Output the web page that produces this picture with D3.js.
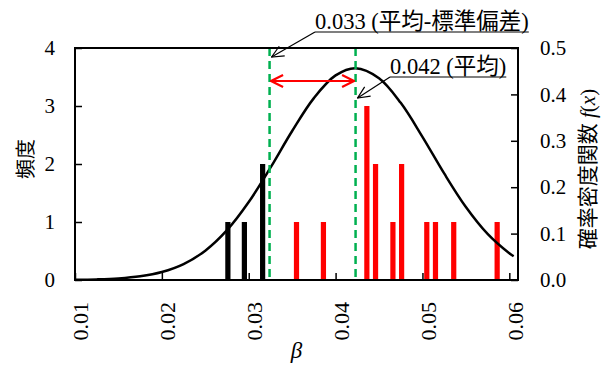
<!DOCTYPE html>
<html>
<head>
<meta charset="utf-8">
<script src="https://cdn.jsdelivr.net/npm/d3@7"></script>
<style>
  body { margin: 0; background: #fff; }
</style>
</head>
<body>
<svg id="chart" width="603" height="365"></svg>
<script>
// histogram of beta (bin centre) and frequency
let betaValues = [0.0276, 0.0295, 0.0316, 0.0355, 0.0386, 0.0436, 0.0446, 0.0466, 0.0476, 0.0505, 0.0515, 0.0536, 0.0586];
let frequency  = [1, 1, 2, 1, 1, 3, 2, 1, 2, 1, 1, 1, 1];

// probability density curve f(x)
let curveX = [0.010, 0.0125, 0.015, 0.0175, 0.020, 0.0225, 0.025, 0.0275, 0.030, 0.0325, 0.035, 0.0375, 0.040, 0.0423, 0.045, 0.0475, 0.050, 0.0525, 0.055, 0.0575, 0.060, 0.0605];
let curveY = [0.0005, 0.0013, 0.0033, 0.0079, 0.0171, 0.0342, 0.0632, 0.1074, 0.1680, 0.2420, 0.3211, 0.3920, 0.4409, 0.4565, 0.4350, 0.3818, 0.3086, 0.2296, 0.1573, 0.0993, 0.0576, 0.0512];

// mean - sd and mean markers, labels split into latin / japanese pieces
let markerValues = [0.0324, 0.0423];
let markerLabels = [
    ["0.033 (", "平均", "-", "標準偏差", ")"],
    ["0.042 (", "平均", ")"]
];

let xTicks = [0.01, 0.02, 0.03, 0.04, 0.05, 0.06];
let leftTicks = [0, 1, 2, 3, 4];
let rightTicks = [0, 0.1, 0.2, 0.3, 0.4, 0.5];

const SERIF = "'Times New Roman'";
const JP = "'Noto Sans CJK JP'";

let svg = d3.select("#chart");
let plotLeft = 75, plotRight = 518, plotTop = 48, plotBottom = 280;

let x = d3.scaleLinear().domain([0.01, 0.061]).range([plotLeft, plotRight]);
let yFreq = d3.scaleLinear().domain([0, 4]).range([plotBottom, plotTop]);
let yPdf = d3.scaleLinear().domain([0, 0.5]).range([plotBottom, plotTop]);

// markers for arrows
let defs = svg.append("defs");
defs.append("marker")
    .attr("id", "openBlack")
    .attr("viewBox", "0 0 14 14")
    .attr("refX", 13).attr("refY", 7)
    .attr("markerWidth", 14).attr("markerHeight", 14)
    .attr("markerUnits", "userSpaceOnUse")
    .attr("orient", "auto")
  .append("path")
    .attr("d", "M1,1.5 L13,7 L1,12.5")
    .attr("fill", "none").attr("stroke", "#000").attr("stroke-width", 1.2);
defs.append("marker")
    .attr("id", "openRed")
    .attr("viewBox", "0 0 14 14")
    .attr("refX", 13).attr("refY", 7)
    .attr("markerWidth", 14).attr("markerHeight", 14)
    .attr("markerUnits", "userSpaceOnUse")
    .attr("orient", "auto-start-reverse")
  .append("path")
    .attr("d", "M1,1 L13,7 L1,13")
    .attr("fill", "none").attr("stroke", "#ff0000").attr("stroke-width", 2.2);

// bars
let bars = betaValues.map((b, i) => ({beta: b, n: frequency[i]}));
svg.append("g").selectAll("rect")
    .data(bars)
    .enter()
    .append("rect")
    .attr("x", d => x(d.beta - 0.0003))
    .attr("width", d => x(d.beta + 0.0003) - x(d.beta - 0.0003))
    .attr("y", d => yFreq(d.n))
    .attr("height", d => yFreq(0) - yFreq(d.n))
    .attr("fill", d => d.beta < markerValues[0] ? "#000" : "#ff0000");

// normal curve
let line = d3.line()
    .x(d => x(d[0]))
    .y(d => yPdf(d[1]))
    .curve(d3.curveCatmullRom);
svg.append("path")
    .datum(curveX.map((v, i) => [v, curveY[i]]))
    .attr("d", line)
    .attr("fill", "none")
    .attr("stroke", "#000")
    .attr("stroke-width", 2.5);

// dashed green lines
svg.append("g").selectAll("line")
    .data(markerValues)
    .enter()
    .append("line")
    .attr("x1", d => x(d)).attr("x2", d => x(d))
    .attr("y1", plotTop).attr("y2", plotBottom)
    .attr("stroke", "#00b050")
    .attr("stroke-width", 2.5)
    .attr("stroke-dasharray", "8,5");

// frame
svg.append("rect")
    .attr("x", plotLeft).attr("y", plotTop)
    .attr("width", plotRight - plotLeft).attr("height", plotBottom - plotTop)
    .attr("fill", "none").attr("stroke", "#000").attr("stroke-width", 2);

// axes
let xAxis = svg.append("g")
    .attr("transform", `translate(0, ${plotBottom})`)
    .call(d3.axisBottom(x).tickValues(xTicks).tickFormat(d3.format(".2f")).tickSize(-7).tickSizeOuter(0));
xAxis.select(".domain").remove();
xAxis.selectAll("line").attr("stroke-width", 1.5);
xAxis.selectAll("text")
    .attr("transform", "rotate(-90)")
    .attr("text-anchor", "end")
    .attr("x", -22).attr("y", 0).attr("dy", "0.58em")
    .style("font-size", "22px");

let yAxisL = svg.append("g")
    .attr("transform", `translate(${plotLeft}, 0)`)
    .call(d3.axisLeft(yFreq).tickValues(leftTicks).tickFormat(d3.format("d")).tickSize(-7).tickPadding(20).tickSizeOuter(0));
yAxisL.select(".domain").remove();
yAxisL.selectAll("line").attr("stroke-width", 1.5);
yAxisL.selectAll("text").style("font-size", "21px");

let yAxisR = svg.append("g")
    .attr("transform", `translate(${plotRight}, 0)`)
    .call(d3.axisRight(yPdf).tickValues(rightTicks).tickFormat(d3.format(".1f")).tickSize(-7).tickPadding(22).tickSizeOuter(0));
yAxisR.select(".domain").remove();
yAxisR.selectAll("line").attr("stroke-width", 1.5);
yAxisR.selectAll("text").style("font-size", "21px");

svg.selectAll(".tick text").style("font-family", SERIF).attr("fill", "#000");

// axis titles
svg.append("text")
    .attr("transform", "translate(33, 159) rotate(-90)")
    .attr("text-anchor", "middle")
    .style("font-size", "20px")
    .style("font-family", JP)
    .text("頻度");

let rTitle = svg.append("text")
    .attr("transform", "translate(595, 169) rotate(-90)")
    .attr("text-anchor", "middle")
    .style("font-size", "21px")
    .style("font-family", SERIF);
rTitle.append("tspan").style("font-family", JP).text("確率密度関数");
rTitle.append("tspan").text(" ");
rTitle.append("tspan").style("font-style", "italic").text("f");
rTitle.append("tspan").text("(");
rTitle.append("tspan").style("font-style", "italic").text("x");
rTitle.append("tspan").text(")");

svg.append("text")
    .attr("x", (plotLeft + plotRight) / 2).attr("y", 358)
    .attr("text-anchor", "middle")
    .style("font-size", "23px")
    .style("font-family", SERIF)
    .style("font-style", "italic")
    .text("β");

// red double arrow between the two lines
svg.append("line")
    .attr("x1", x(markerValues[0]) + 1.5).attr("x2", x(markerValues[1]) - 1.5)
    .attr("y1", 81).attr("y2", 81)
    .attr("stroke", "#ff0000").attr("stroke-width", 2.2)
    .attr("marker-start", "url(#openRed)")
    .attr("marker-end", "url(#openRed)");

// callouts with underline and leader
let callouts = [
    {tx: 315, ty: 29, tipY: 57},
    {tx: 390, ty: 74, tipY: 98}
];
callouts.forEach((c, i) => {
    let t = svg.append("text")
        .attr("x", c.tx).attr("y", c.ty)
        .style("font-size", "22.5px")
        .style("font-family", SERIF);
    markerLabels[i].forEach((part, j) => {
        t.append("tspan")
            .style("font-family", j % 2 ? JP : SERIF)
            .text(part);
    });
    let w = t.node().getComputedTextLength();
    svg.append("line")
        .attr("x1", c.tx).attr("x2", c.tx + w)
        .attr("y1", c.ty + 3).attr("y2", c.ty + 3)
        .attr("stroke", "#000").attr("stroke-width", 1.2);
    svg.append("line")
        .attr("x1", c.tx).attr("y1", c.ty + 3)
        .attr("x2", x(markerValues[i]) + 2).attr("y2", c.tipY)
        .attr("stroke", "#000").attr("stroke-width", 1.2)
        .attr("marker-end", "url(#openBlack)");
});
</script>
</body>
</html>
